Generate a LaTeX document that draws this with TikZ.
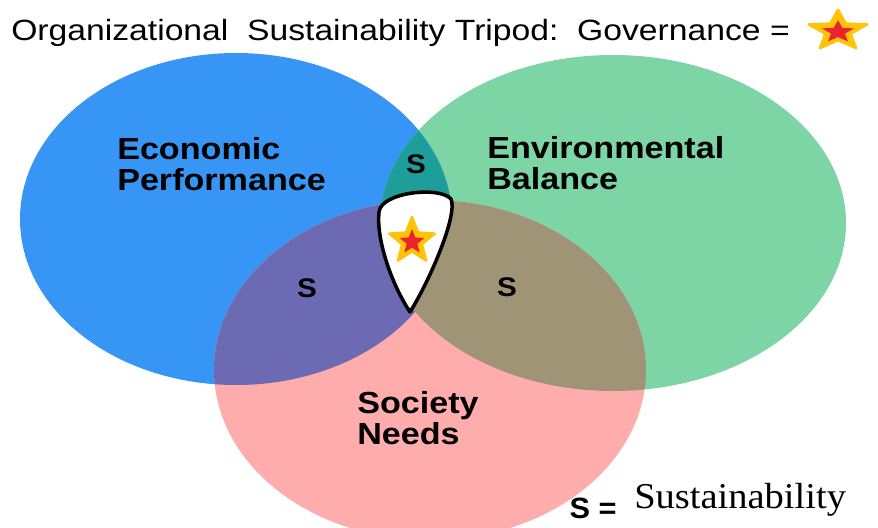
\documentclass[tikz,border=0pt]{standalone}
\usepackage{fontspec}
\setsansfont{Liberation Sans}
\setmainfont{Liberation Serif}
\usetikzlibrary{shapes.geometric,positioning}

\definecolor{econblue}{RGB}{55,150,245}
\definecolor{envgreen}{RGB}{125,212,165}
\definecolor{socpink}{RGB}{255,172,172}
\definecolor{econenv}{RGB}{30,158,155}
\definecolor{econsoc}{RGB}{108,106,178}
\definecolor{envsoc}{RGB}{160,148,118}
\definecolor{staryellow}{RGB}{255,196,10}
\definecolor{starred}{RGB}{235,35,45}

\begin{document}
\begin{tikzpicture} [x=0.03cm,y=-0.03cm]
    \tikzset {
      pillar/.style={font=\sffamily\bfseries\fontsize{26}{27}\selectfont,align=left,anchor=west,inner sep=0pt,xscale=1.12,transform shape},
      sus/.style={font=\sffamily\bfseries\fontsize{23}{23}\selectfont,inner sep=0pt,xscale=1.1,transform shape},
      outerstar/.style={star,star points=5,star point ratio=2.3,fill=staryellow,draw=staryellow,line join=round,line width=2pt,inner sep=0pt},
      innerstar/.style={star,star points=5,star point ratio=2.3,fill=starred,inner sep=0pt}
    }
    \clip (0,0) rectangle (878,527);
    \def\econset{(236,219) ellipse [x radius=216, y radius=166]}
    \def\envset{(613,223) ellipse [x radius=233, y radius=168]}
    \def\socset{(430,370) ellipse [x radius=216, y radius=170]}
    \fill [econblue] \econset;
    \fill [envgreen] \envset;
    \fill [socpink] \socset;
    \begin{scope}
      \clip \econset;
      \fill [econenv] \envset;
      \fill [econsoc] \socset;
    \end{scope}
    \begin{scope}
      \clip \envset;
      \fill [envsoc] \socset;
    \end{scope}

    % governance shield
    \draw [fill=white,line width=3pt,line join=round]
      (410,312) .. controls (392,285) and (376,240) .. (379,212)
      .. controls (381,192) and (440,186) .. (451,199)
      .. controls (458,215) and (430,280) .. (410,312) -- cycle;
    \node [outerstar, minimum size=1.45cm] (gov) at (412,241) {};
    \node [innerstar, minimum size=0.78cm] (govcore) at (412,242) {};

    \node [font=\sffamily\fontsize{25}{30}\selectfont,anchor=west,inner sep=0pt,xscale=1.15,transform shape] (title) at (11,33)
      {Organizational\ \ Sustainability Tripod:\ \ Governance =};
    \node [outerstar, minimum size=1.28cm, xscale=1.45, transform shape] (keystar) at (838,31) {};
    \node [innerstar, minimum size=0.7cm, xscale=1.45, transform shape] (keycore) at (838,32) {};

    \node [pillar] (econ) at (117,164) {Economic\\Performance};
    \node [pillar] (env) at (487,163) {Environmental\\Balance};
    \node [pillar] (soc) at (357,418) {Society\\Needs};

    \node [sus] (s1) at (416,164) {S};
    \node [sus] (s2) at (307,288) {S};
    \node [sus] (s3) at (507,287) {S};

    \node [font=\sffamily\bfseries\fontsize{25}{25}\selectfont,inner sep=0pt,xscale=1.05,transform shape] (key) at (593,508) {S =};
    \node [font=\rmfamily\fontsize{31}{31}\selectfont,anchor=west,inner sep=0pt,xscale=1.06,transform shape] (keytext) at (634,500) {Sustainability};
  \end{tikzpicture}
\end{document}
